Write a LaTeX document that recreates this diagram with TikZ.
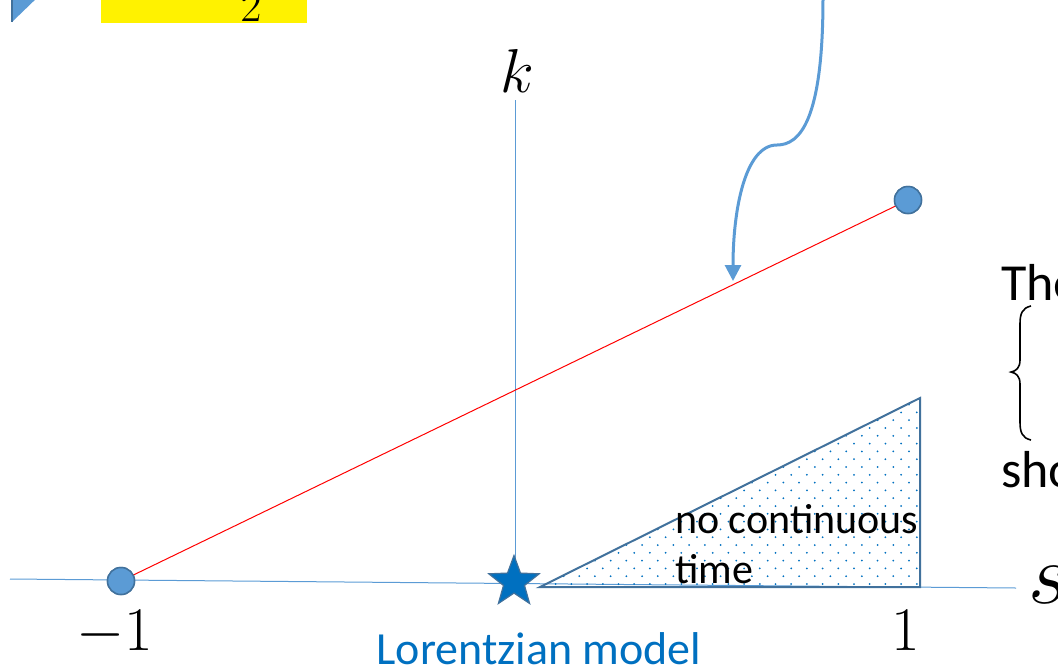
\RequirePackage{fix-cm}
\documentclass[tikz,border=0pt]{standalone}
\usepackage{amsmath}
\usepackage{fontspec}
\setsansfont{Carlito}
\usetikzlibrary{arrows.meta, positioning, shapes.geometric}

\definecolor{axisblue}{HTML}{5B9BD5}
\definecolor{edgeblue}{HTML}{41719C}
\definecolor{starblue}{HTML}{0070C0}

\begin{document}
\begin{tikzpicture}[x=1pt, y=-1pt,
    axis/.style={axisblue, line width=1pt},
    endpt/.style={circle, fill=axisblue, draw=edgeblue, line width=1.5pt, minimum size=27pt, inner sep=0pt},
    mathlbl/.style={inner sep=0pt, font=\fontsize{62}{70}\selectfont},
    txt/.style={inner sep=0pt, font=\fontsize{42}{50}\selectfont\sffamily},
    bigtxt/.style={inner sep=0pt, font=\fontsize{52}{60}\selectfont\sffamily}]
    \useasboundingbox (0,0) rectangle (1058,670);

    % pieces of the slide above
    \fill[axisblue] (12,-5) -- (40,-5) -- (12,22) -- cycle;
    \draw[edgeblue, line width=1.5pt] (12,-5) -- (12,22);
    \fill[yellow] (101,-2) rectangle (307,23);
    \node[inner sep=0pt, anchor=base, font=\fontsize{46}{50}\selectfont] (two) at (251,21) {$2$};

    % axes
    \coordinate (sl) at (10,579);
    \coordinate (sr) at (1016,588);
    \coordinate (kb) at (515,583);
    \coordinate (kt) at (515,100);
    \draw[axis] (sl) -- (sr);
    \draw[axis] (kb) -- (kt);
    \node[mathlbl, anchor=base] (klbl) at (517,92) {$k$};
    \node[inner sep=0pt, anchor=base west, font=\fontsize{86}{90}\selectfont] (slbl) at (1028,603) {$s$};

    % region without continuous time
    \coordinate (ta) at (540,587);
    \coordinate (tb) at (920,398);
    \coordinate (tc) at (920,587);
    \begin{scope}
        \clip (ta) -- (tb) -- (tc) -- cycle;
        \foreach \r in {0,...,25}
            \foreach \c in {0,...,25}
                \fill[starblue] ({540+\c*15.7+mod(\r,2)*7.85}, {584-\r*7.8}) circle (1pt);
    \end{scope}
    \draw[edgeblue, line width=2pt] (ta) -- (tb) -- (tc) -- cycle;
    \node[txt, anchor=base west] (nocont) at (675,533) {no continuous};
    \node[txt, anchor=base west] (time) at (675,583) {time};

    % red segment
    \node[endpt] (m1) at (121,581) {};
    \node[endpt] (p1) at (908,200) {};
    \draw[red, line width=1pt] (m1.center) -- (p1.center);
    \node[endpt] at (m1) {};
    \node[endpt] at (p1) {};

    % Lorentzian point
    \node[star, star points=5, star point ratio=2.4, fill=starblue, draw=edgeblue, line width=1.2pt,
          minimum size=53pt, inner sep=0pt] (lor) at (514,582) {};
    \node[txt, font=\fontsize{46}{50}\selectfont\sffamily, text=starblue, anchor=base] (lorlbl) at (539,664) {Lorentzian model};

    \node[mathlbl, anchor=base] (minus1) at (115,650) {$-1$};
    \node[mathlbl, anchor=base] (one) at (906,650) {$1$};

    % curved arrow from above
    \coordinate (arrS) at (823,-2);
    \coordinate (arrE) at (733,281);
    \draw[axisblue, line width=3pt, -{Triangle[length=16pt, width=16pt]}]
        (arrS) .. controls (823,120) and (800,145) .. (777,145)
        .. controls (745,145) and (733,210) .. (arrE);

    % text on the right edge
    \node[bigtxt, anchor=base west] (the) at (1001,300) {The};
    \draw[line width=1.6pt] (1031,306) .. controls (1022,308) and (1020,314) .. (1020,324) -- (1020,360)
        .. controls (1020,368) and (1016,371) .. (1011,372)
        .. controls (1016,373) and (1020,376) .. (1020,384) -- (1020,422)
        .. controls (1020,432) and (1022,438) .. (1031,440);
    \node[bigtxt, anchor=base west] (sho) at (1001,487) {sho};
\end{tikzpicture}
\end{document}
